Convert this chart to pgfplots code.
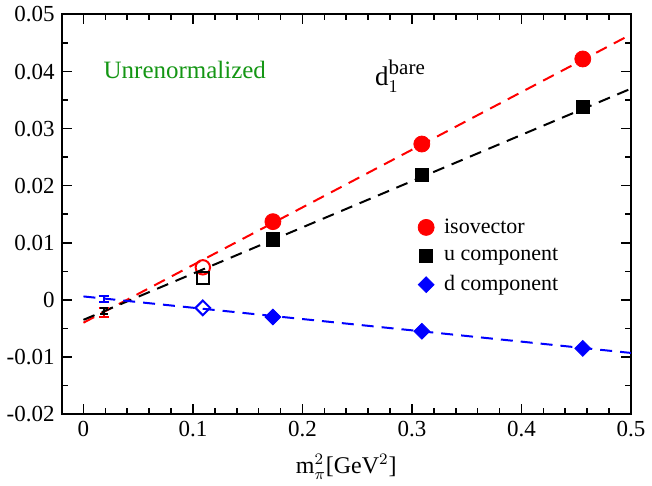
\documentclass[border=0pt]{standalone}
\usepackage{pgfplots}
\pgfplotsset{compat=1.18}
\usepackage{fontspec}
\setmainfont{Liberation Serif}
\definecolor{grn}{RGB}{20,150,20}

\begin{document}
\begin{tikzpicture}
\begin{axis}[
  scale only axis,
  width=285pt, height=200pt,
  xmin=-0.02, xmax=0.5,
  ymin=-0.02, ymax=0.05,
  scaled y ticks=false,
  scaled x ticks=false,
  xtick={0,0.1,0.2,0.3,0.4,0.5},
  xticklabels={0,0.1,0.2,0.3,0.4,0.5},
  ytick={-0.02,-0.01,0,0.01,0.02,0.03,0.04,0.05},
  yticklabels={-0.02,-0.01,0,0.01,0.02,0.03,0.04,0.05},
  minor x tick num=4,
  minor y tick num=1,
  tick align=inside,
  major tick length=5pt,
  minor tick length=3pt,
  every tick/.style={black, line width=0.8pt},
  axis line style={line width=1pt},
  tick label style={font=\fontsize{11.5}{13}\selectfont},
  /pgf/number format/assume math mode=true,
  xlabel={m$_\pi^2$[GeV$^2$]},
  label style={font=\fontsize{12}{14}\selectfont},
  xlabel style={yshift=-2pt},
  clip=true,
  legend style={draw=none, fill=none, at={(rel axis cs:0.615,0.51)}, anchor=north west,
    font=\fontsize{11}{13}\selectfont, row sep=2pt,
    nodes={inner xsep=5pt}},
  legend cell align=left,
]
% fit lines
\addplot[red, line width=1pt, dash pattern=on 6pt off 4pt, forget plot] coordinates {(0,-0.0040) (0.5,0.0465)};
\addplot[black, line width=1pt, dash pattern=on 6pt off 4pt, forget plot] coordinates {(0,-0.0035) (0.5,0.0370)};
\addplot[blue, line width=1pt, dash pattern=on 6pt off 4pt, forget plot] coordinates {(0,0.0006) (0.5,-0.0093)};

% data
\addplot[only marks, red, mark=*, mark size=4pt] coordinates {(0.173,0.0137) (0.309,0.0273) (0.456,0.0422)};
\addlegendentry{isovector}
\addplot[only marks, black, mark=square*, mark size=3.3pt] coordinates {(0.173,0.0106) (0.309,0.0219) (0.456,0.0338)};
\addlegendentry{u component}
\addplot[only marks, blue, mark=square*, mark size=2.8pt, mark options={rotate=45}] coordinates {(0.173,-0.0030) (0.309,-0.0055) (0.456,-0.0085)};
\addlegendentry{d component}

% open points at x=0.109
\addplot[only marks, red, mark=o, mark size=3.6pt, line width=1pt, forget plot] coordinates {(0.109,0.0057)};
\addplot[only marks, black, mark=square, mark size=3pt, line width=1pt, mark options={fill=white}, forget plot] coordinates {(0.109,0.0039)};
\addplot[only marks, blue, mark=square, mark size=2.6pt, line width=1pt, mark options={fill=white, rotate=45}, forget plot] coordinates {(0.109,-0.0014)};

% chiral extrapolations
\addplot[red, line width=1pt, mark=none, forget plot,
  error bars/.cd, y dir=both, y explicit, error bar style={line width=1pt}, error mark options={rotate=90, mark size=2.5pt, line width=1pt}]
  coordinates {(0.0185,-0.0022) +- (0,0.0008)};
\addplot[black, line width=1pt, mark=none, forget plot,
  error bars/.cd, y dir=both, y explicit, error bar style={line width=1pt}, error mark options={rotate=90, mark size=2pt, line width=1pt}]
  coordinates {(0.0185,-0.0020) +- (0,0.0005)};
\addplot[blue, line width=1pt, mark=none, forget plot,
  error bars/.cd, y dir=both, y explicit, error bar style={line width=1pt}, error mark options={rotate=90, mark size=2.5pt, line width=1pt}]
  coordinates {(0.0185,0.0001) +- (0,0.0005)};

\node[grn, font=\fontsize{12.5}{14}\selectfont, anchor=west] at (axis cs:0.012,0.0403) {Unrenormalized};
\node[black, font=\fontsize{13.5}{15}\selectfont, anchor=west] at (axis cs:0.26,0.0392) {d$_1^{\mbox{\fontsize{10.5}{11}\selectfont bare}}$};
\end{axis}
\end{tikzpicture}
\end{document}
